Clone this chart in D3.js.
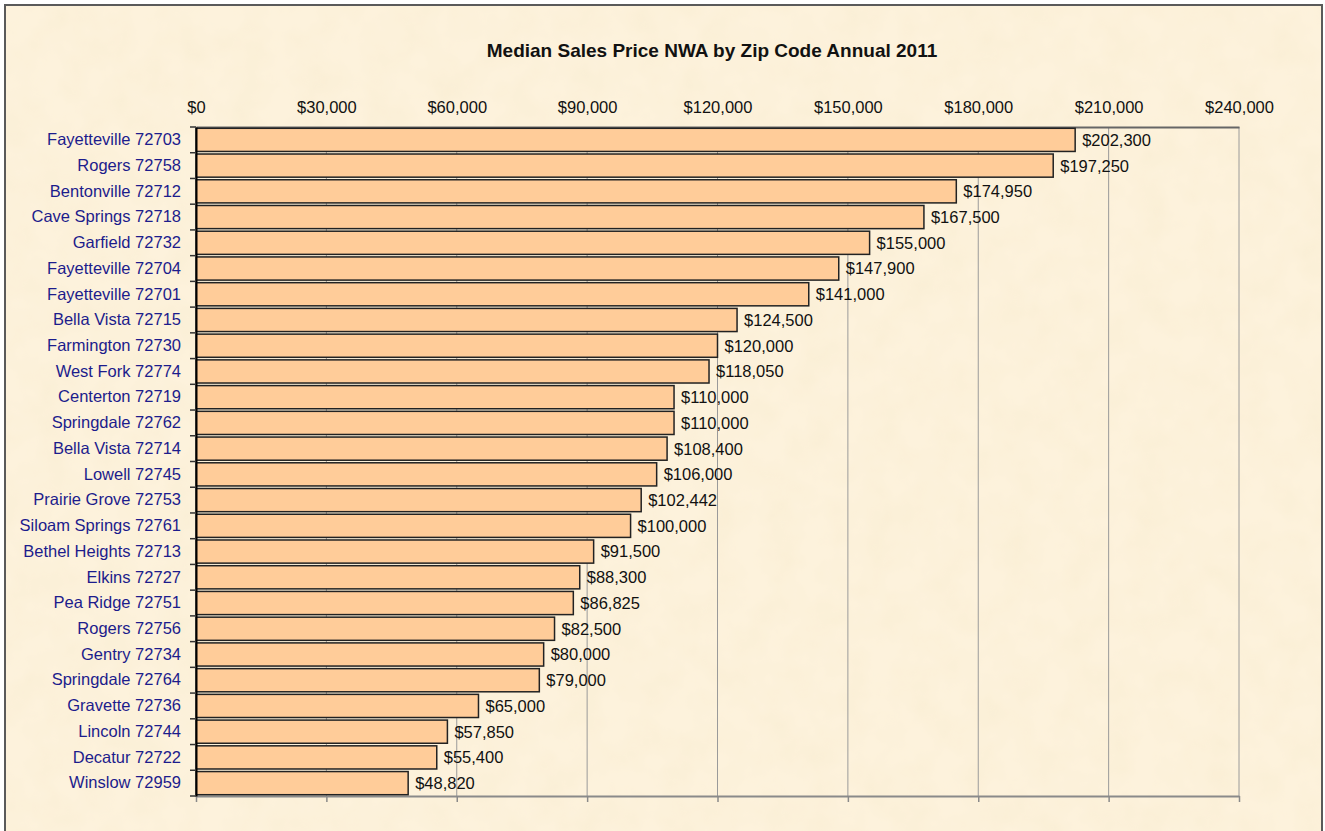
<!DOCTYPE html>
<html>
<head>
<meta charset="utf-8">
<script src="https://cdn.jsdelivr.net/npm/d3@7"></script>
<style>
  body { margin: 0; background: #fff; }
  text { font-family: "Liberation Sans", Arial, sans-serif; }
</style>
</head>
<body>
<div id="chart"></div>
<script>
// Data
const zipAreas = [
  "Fayetteville 72703", "Rogers 72758", "Bentonville 72712", "Cave Springs 72718",
  "Garfield 72732", "Fayetteville 72704", "Fayetteville 72701", "Bella Vista 72715",
  "Farmington 72730", "West Fork 72774", "Centerton 72719", "Springdale 72762",
  "Bella Vista 72714", "Lowell 72745", "Prairie Grove 72753", "Siloam Springs 72761",
  "Bethel Heights 72713", "Elkins 72727", "Pea Ridge 72751", "Rogers 72756",
  "Gentry 72734", "Springdale 72764", "Gravette 72736", "Lincoln 72744",
  "Decatur 72722", "Winslow 72959"
];
const medianPrices = [
  202300, 197250, 174950, 167500, 155000, 147900, 141000, 124500,
  120000, 118050, 110000, 110000, 108400, 106000, 102442, 100000,
  91500, 88300, 86825, 82500, 80000, 79000, 65000, 57850, 55400, 48820
];
const tickValues = [0, 30000, 60000, 90000, 120000, 150000, 180000, 210000, 240000];

const data = zipAreas.map((name, i) => ({ name, value: medianPrices[i] }));

const W = 1325, H = 831;
const margin = { top: 127, right: 86, bottom: 35, left: 196 };
const width = W - margin.left - margin.right;
const height = H - margin.top - margin.bottom;

const svg = d3.select("#chart").append("svg")
    .attr("width", W)
    .attr("height", H);

// Parchment-like background with a soft texture
const defs = svg.append("defs");
const filt = defs.append("filter").attr("id", "paper")
    .attr("x", 0).attr("y", 0).attr("width", "100%").attr("height", "100%");
filt.append("feTurbulence").attr("type", "fractalNoise")
    .attr("baseFrequency", 0.03).attr("numOctaves", 3).attr("seed", 4);
filt.append("feColorMatrix").attr("type", "matrix")
    .attr("values", "0 0 0 0 0.92  0 0 0 0 0.82  0 0 0 0 0.6  0 0 0 0.6 -0.18");
filt.append("feComposite").attr("in2", "SourceGraphic").attr("operator", "in");

svg.append("rect")
    .attr("x", 5).attr("y", 5).attr("width", W - 8).attr("height", H - 4)
    .attr("fill", "#fdf2dc");
svg.append("rect")
    .attr("x", 5).attr("y", 5).attr("width", W - 8).attr("height", H - 4)
    .attr("fill", "#fdf2dc").attr("filter", "url(#paper)");
svg.append("rect")
    .attr("x", 5).attr("y", 5).attr("width", W - 8).attr("height", H - 4)
    .attr("fill", "none").attr("stroke", "#5a5a5a").attr("stroke-width", 2);

// Title
svg.append("text")
    .attr("x", 712).attr("y", 57)
    .attr("text-anchor", "middle")
    .attr("font-size", 19).attr("font-weight", "bold")
    .attr("fill", "#111")
    .text("Median Sales Price NWA by Zip Code Annual 2011");

const g = svg.append("g")
    .attr("transform", `translate(${margin.left},${margin.top})`);

// Scales
const x = d3.scaleLinear()
    .domain([0, 240000])
    .range([0, width]);

const y = d3.scaleBand()
    .domain(zipAreas)
    .range([0, height])
    .paddingInner(0.1)
    .paddingOuter(0.05);

// Gridlines
g.selectAll(".grid")
    .data(tickValues.slice(1))
    .enter().append("line")
    .attr("class", "grid")
    .attr("x1", d => x(d)).attr("x2", d => x(d))
    .attr("y1", 0).attr("y2", height)
    .attr("stroke", "#9a9a9a").attr("stroke-width", 1);

// Top axis (labels)
const fmt = d => "$" + d3.format(",")(d);
const topAxis = g.append("g")
    .call(d3.axisTop(x).tickValues(tickValues).tickFormat(fmt).tickSize(0).tickPadding(14));
topAxis.select(".domain").attr("stroke", "#666").attr("stroke-width", 2);
topAxis.selectAll("text")
    .attr("font-size", 16.5).attr("fill", "#111")
    .style("font-family", "'Liberation Sans', Arial, sans-serif");

// Bottom axis (ticks only)
const bottomAxis = g.append("g")
    .attr("transform", `translate(0,${height})`)
    .call(d3.axisBottom(x).tickValues(tickValues).tickFormat("").tickSize(6).tickSizeOuter(0));
bottomAxis.select(".domain").attr("stroke", "#8a8a8a").attr("stroke-width", 2);
bottomAxis.selectAll(".tick line").attr("stroke", "#8a8a8a").attr("stroke-width", 1.5);

// Bars
g.selectAll(".bar")
    .data(data)
    .enter().append("rect")
    .attr("class", "bar")
    .attr("x", x(0))
    .attr("y", d => y(d.name))
    .attr("width", d => x(d.value) - x(0))
    .attr("height", y.bandwidth())
    .attr("fill", "#ffcc99")
    .attr("stroke", "#222")
    .attr("stroke-width", 1.5);

// Value labels
g.selectAll(".value")
    .data(data)
    .enter().append("text")
    .attr("class", "value")
    .attr("x", d => x(d.value) + 7)
    .attr("y", d => y(d.name) + y.bandwidth() / 2)
    .attr("dy", "0.36em")
    .attr("font-size", 16.5).attr("fill", "#111")
    .text(d => fmt(d.value));

// Left axis with category labels
const leftAxis = g.append("g")
    .call(d3.axisLeft(y).tickSize(0).tickPadding(15));
leftAxis.select(".domain").attr("stroke", "#000").attr("stroke-width", 2);
leftAxis.selectAll("text")
    .attr("font-size", 16.5).attr("fill", "#1c1c8c")
    .style("font-family", "'Liberation Sans', Arial, sans-serif");

// Tick marks between categories on the left axis
const boundaries = d3.range(zipAreas.length + 1).map(i => i * height / zipAreas.length);
g.selectAll(".ytick")
    .data(boundaries)
    .enter().append("line")
    .attr("class", "ytick")
    .attr("x1", -6).attr("x2", 0)
    .attr("y1", d => d).attr("y2", d => d)
    .attr("stroke", "#333").attr("stroke-width", 1.5);
</script>
</body>
</html>
